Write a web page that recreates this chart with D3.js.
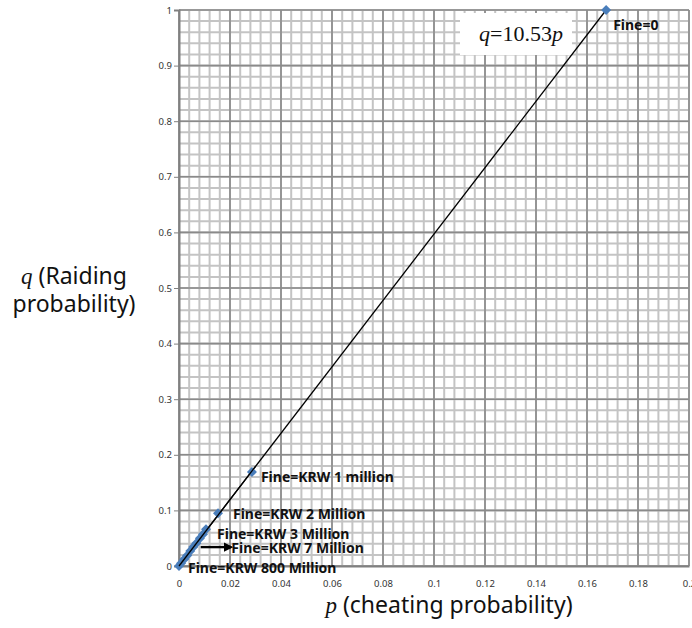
<!DOCTYPE html>
<html>
<head>
<meta charset="utf-8">
<script src="https://cdn.jsdelivr.net/npm/d3@7/dist/d3.min.js"></script>
<style>
  body { margin: 0; background: #fff; }
  svg { display: block; }
  .tick-label { font-family: "Noto Sans", "Open Sans", sans-serif; font-size: 9.5px; fill: #333; }
  .title { font-family: "Noto Sans", "Open Sans", sans-serif; font-size: 23px; fill: #111; }
  .pt-label { font-family: "Noto Sans", "Open Sans", sans-serif; font-size: 14px; font-weight: bold; fill: #111; }
</style>
</head>
<body>
<div id="chart"></div>
<script>
// data
const pValues = [0.1675, 0.0286, 0.0153, 0.0106, 0.0094, 0.0082, 0.0068, 0.0056, 0.0044, 0.0032, 0.0020, 0.0008, 0.0];
const qValues = [1.0, 0.169, 0.095, 0.066, 0.057, 0.050, 0.041, 0.034, 0.027, 0.019, 0.012, 0.005, 0.0];
const pointLabels = [
  { idx: 0, text: 'Fine=0' },
  { idx: 1, text: 'Fine=KRW 1 million' },
  { idx: 2, text: 'Fine=KRW 2 Million' },
  { idx: 3, text: 'Fine=KRW 3 Million' },
  { idx: 6, text: 'Fine=KRW 7 Million' },
  { idx: 12, text: 'Fine=KRW 800 Million' },
];
const xTicks = [0, 0.02, 0.04, 0.06, 0.08, 0.1, 0.12, 0.14, 0.16, 0.18, 0.2];
const yTicks = [0, 0.1, 0.2, 0.3, 0.4, 0.5, 0.6, 0.7, 0.8, 0.9, 1];
const slope = 1 / 0.1675;

const width = 692;
const height = 628;
const margin = { top: 10, right: 3, bottom: 62, left: 179 };
const innerHeight = height - margin.top - margin.bottom;

const svg = d3.select('#chart').append('svg')
  .attr('width', width)
  .attr('height', height);

const g = svg.append('g')
  .attr('transform', `translate(${margin.left}, ${margin.top})`);

const xScale = d3.scaleLinear().domain([0, 0.2]).range([0, 510]);
const yScale = d3.scaleLinear().domain([0, 1]).range([innerHeight, 0]);

// minor grid
const xMinor = d3.range(0, 51).map((i) => i * 0.004);
const yMinor = d3.range(0, 51).map((i) => i * 0.02);

g.selectAll('.vminor').data(xMinor).enter().append('line')
  .attr('x1', (d) => xScale(d)).attr('x2', (d) => xScale(d))
  .attr('y1', 0).attr('y2', innerHeight)
  .attr('stroke', '#c4c4c4').attr('stroke-width', 2);
g.selectAll('.hminor').data(yMinor).enter().append('line')
  .attr('y1', (d) => yScale(d)).attr('y2', (d) => yScale(d))
  .attr('x1', 0).attr('x2', xScale(0.2))
  .attr('stroke', '#c4c4c4').attr('stroke-width', 2);

// major grid
g.selectAll('.vmajor').data(xTicks).enter().append('line')
  .attr('x1', (d) => xScale(d)).attr('x2', (d) => xScale(d))
  .attr('y1', 0).attr('y2', innerHeight)
  .attr('stroke', '#8a8a8a').attr('stroke-width', 1.6);
g.selectAll('.hmajor').data(yTicks).enter().append('line')
  .attr('y1', (d) => yScale(d)).attr('y2', (d) => yScale(d))
  .attr('x1', 0).attr('x2', xScale(0.2))
  .attr('stroke', '#8a8a8a').attr('stroke-width', 1.6);

// equation box
g.append('rect')
  .attr('x', 281).attr('y', 3)
  .attr('width', 112).attr('height', 42)
  .attr('fill', '#fff');
const eq = g.append('text')
  .attr('x', 300).attr('y', 31)
  .style('font-family', '"Liberation Serif", "DejaVu Serif", serif')
  .style('font-size', '22px')
  .attr('fill', '#111');
eq.append('tspan').style('font-style', 'italic').text('q');
eq.append('tspan').text('=10.53');
eq.append('tspan').style('font-style', 'italic').text('p');

// axes
const yAxis = d3.axisLeft(yScale).tickValues(yTicks).tickSize(5).tickFormat(d3.format('~g'));
const gY = g.append('g').call(yAxis);
gY.select('.domain').attr('stroke', '#808080').attr('stroke-width', 2);
gY.selectAll('.tick line').attr('stroke', '#808080');
gY.selectAll('.tick text').attr('class', 'tick-label').attr('x', -7);

const xAxis = d3.axisBottom(xScale).tickValues(xTicks).tickSize(0).tickFormat(d3.format('~g'));
const gX = g.append('g').attr('transform', `translate(0, ${innerHeight})`).call(xAxis);
gX.select('.domain').attr('stroke', '#808080').attr('stroke-width', 2);
gX.selectAll('.tick text').attr('class', 'tick-label').attr('y', 14);

// trend line
const lineData = [0, 0.1675];
g.append('line')
  .attr('x1', xScale(lineData[0])).attr('y1', yScale(lineData[0] * slope))
  .attr('x2', xScale(lineData[1])).attr('y2', yScale(lineData[1] * slope))
  .attr('stroke', '#000').attr('stroke-width', 1.3);

// points (diamonds)
const points = pValues.map((p, i) => ({ p, q: qValues[i] }));
g.selectAll('.pt').data(points).enter().append('path')
  .attr('d', 'M0,-5L5,0L0,5L-5,0Z')
  .attr('transform', (d) => `translate(${xScale(d.p)}, ${yScale(d.q)})`)
  .attr('fill', '#4a7ebb');

// line goes over points near the origin
g.append('line')
  .attr('x1', xScale(0)).attr('y1', yScale(0))
  .attr('x2', xScale(0.03)).attr('y2', yScale(0.03 * slope))
  .attr('stroke', '#000').attr('stroke-width', 1.3);

// point labels
const labelOffsets = [
  { dx: 7, dy: 20 },
  { dx: 9, dy: 10 },
  { dx: 15, dy: 6 },
  { dx: 11, dy: 10 },
  { dx: 35, dy: 10 },
  { dx: 9, dy: 7 },
];
g.selectAll('.pt-label').data(pointLabels).enter().append('text')
  .attr('class', 'pt-label')
  .attr('x', (d, i) => xScale(pValues[d.idx]) + labelOffsets[i].dx)
  .attr('y', (d, i) => yScale(qValues[d.idx]) + labelOffsets[i].dy)
  .text((d) => d.text);

// arrow to the 7 million label
svg.append('defs').append('marker')
  .attr('id', 'arrow')
  .attr('viewBox', '0 0 10 10')
  .attr('refX', 8).attr('refY', 5)
  .attr('markerWidth', 4).attr('markerHeight', 4)
  .attr('orient', 'auto')
  .append('path').attr('d', 'M0,0 L10,5 L0,10 Z').attr('fill', '#000');
g.append('line')
  .attr('x1', xScale(0.0085)).attr('y1', yScale(0.034))
  .attr('x2', xScale(0.0205)).attr('y2', yScale(0.034))
  .attr('stroke', '#000').attr('stroke-width', 2.4)
  .attr('marker-end', 'url(#arrow)');

// axis titles
const yTitle = svg.append('text').attr('class', 'title').attr('text-anchor', 'middle');
yTitle.append('tspan').attr('x', 74).attr('y', 284)
  .style('font-family', '"Liberation Serif", serif').style('font-style', 'italic').text('q');
yTitle.append('tspan').text(' (Raiding');
svg.append('text').attr('class', 'title').attr('text-anchor', 'middle')
  .attr('x', 74).attr('y', 312).text('probability)');

const xTitle = svg.append('text').attr('class', 'title').attr('text-anchor', 'middle')
  .attr('x', 449).attr('y', 613);
xTitle.append('tspan')
  .style('font-family', '"Liberation Serif", serif').style('font-style', 'italic').text('p');
xTitle.append('tspan').text(' (cheating probability)');
</script>
</body>
</html>
